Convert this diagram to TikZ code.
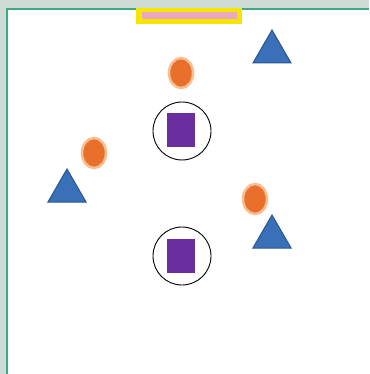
\documentclass[tikz,border=0pt]{standalone}
\usetikzlibrary{shapes.geometric}
\definecolor{bgc}{HTML}{CFDCD5}
\definecolor{framec}{HTML}{3DAA82}
\definecolor{orng}{HTML}{E8702A}
\definecolor{halo}{HTML}{F8BE92}
\definecolor{blu}{HTML}{3A70B8}
\definecolor{bluedge}{HTML}{2A5594}
\definecolor{purp}{HTML}{6A2E9E}
\definecolor{yel}{HTML}{F4E600}
\definecolor{pnk}{HTML}{E9A8BE}
\tikzset{
  orangedot/.style={ellipse, fill=orng, draw=halo, line width=2.5pt, minimum width=24pt, minimum height=30pt, inner sep=0pt},
  tri/.style={regular polygon, regular polygon sides=3, fill=blu, draw=bluedge, line width=1pt, minimum size=44pt, inner sep=0pt},
  ring/.style={circle, draw=black, line width=0.9pt, minimum size=58pt, inner sep=0pt},
  sq/.style={rectangle, fill=purp, minimum width=28pt, minimum height=34pt, inner sep=0pt}
}
\begin{document}
\begin{tikzpicture}[x=1pt,y=-1pt]
\useasboundingbox (0,0) rectangle (369,374);
\fill[bgc] (0,0) rectangle (369,374);
\fill[white] (6,8) rectangle (369,374);
\draw[framec, line width=1.6pt] (6.8,374) -- (6.8,8.8) -- (369,8.8);
% top bar
\node[rectangle, fill=yel, minimum width=106pt, minimum height=16pt, inner sep=0pt] (bar) at (189,16) {};
\node[rectangle, fill=pnk, minimum width=95pt, minimum height=7pt, inner sep=0pt] (pinkbar) at (189,16) {};
% triangles
\node[tri] (t1) at (272,52) {};
\node[tri] (t2) at (67,191) {};
\node[tri] (t3) at (272,237) {};
% orange dots
\node[orangedot] (o1) at (181,73) {};
\node[orangedot] (o2) at (94,153) {};
\node[orangedot] (o3) at (255,199) {};
% circles with squares
\node[ring] (c1) at (182,131) {};
\node[sq] (s1) at (181,130) {};
\node[ring] (c2) at (182,256) {};
\node[sq] (s2) at (181,256) {};
\end{tikzpicture}
\end{document}
